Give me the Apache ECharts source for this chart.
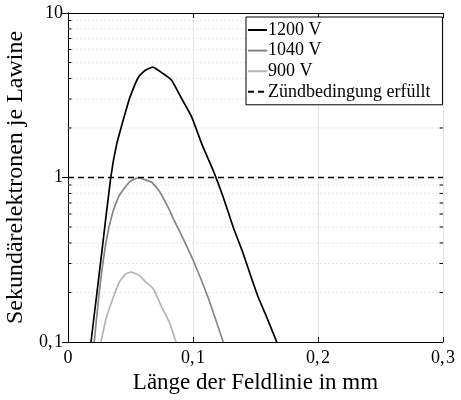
<!DOCTYPE html>
<html>
<head>
<meta charset="utf-8">
<script src="https://cdn.jsdelivr.net/npm/echarts@6/dist/echarts.min.js"></script>
<style>
  html, body { margin: 0; padding: 0; background: #fff; }
  #chart { width: 461px; height: 400px; }
</style>
</head>
<body>
<div id="chart"></div>
<script>
// Secondary electrons per avalanche along the field line (mm), three voltages
const x1200 = [0.0184, 0.0264, 0.0342, 0.039, 0.0456, 0.0496, 0.0563, 0.0616, 0.0677, 0.0763, 0.083, 0.091, 0.099, 0.107, 0.1162, 0.1242, 0.1322, 0.1402, 0.1456, 0.1522, 0.159, 0.167];
const y1200 = [0.1, 0.32, 1.0, 1.60, 2.44, 3.08, 4.07, 4.47, 4.69, 4.27, 3.89, 3.01, 2.33, 1.60, 1.10, 0.759, 0.499, 0.344, 0.260, 0.187, 0.1415, 0.1];

const x1040 = [0.021, 0.025, 0.0304, 0.0358, 0.041, 0.049, 0.0544, 0.0576, 0.0598, 0.067, 0.0736, 0.080, 0.0856, 0.0896, 0.1002, 0.112, 0.1242];
const y1040 = [0.1, 0.201, 0.404, 0.616, 0.777, 0.936, 0.99, 0.995, 0.98, 0.936, 0.814, 0.66, 0.535, 0.466, 0.313, 0.187, 0.1];

const x900 = [0.0264, 0.0304, 0.0358, 0.041, 0.0464, 0.0504, 0.057, 0.0624, 0.0683, 0.075, 0.0816, 0.0864];
const y900 = [0.1, 0.138, 0.183, 0.231, 0.260, 0.266, 0.254, 0.231, 0.21, 0.163, 0.129, 0.1];

// Ignition condition: one secondary electron per avalanche
const thresholdX = [0, 0.3];
const thresholdY = [1, 1];

const seriesNames = ['1200 V', '1040 V', '900 V', 'Zündbedingung erfüllt'];
const xTicks = [0, 0.1, 0.2, 0.3];
const yMinorValues = [0.2, 0.3, 0.4, 0.5, 0.6, 0.7, 0.8, 0.9, 2, 3, 4, 5, 6, 7, 8, 9];

const serif = '"Liberation Serif", "DejaVu Serif", serif';
const pairs = (xs, ys) => xs.map((x, i) => [x, ys[i]]);
// decimal comma followed by a hair space, as in typeset math
const comma = v => String(+v.toFixed(3)).replace('.', ',\u200A');

const chart = echarts.init(document.getElementById('chart'), null, { renderer: 'canvas' });

const baseAxisLine = { show: true, lineStyle: { color: '#000', width: 1 } };

chart.setOption({
  animation: false,
  backgroundColor: '#fff',
  textStyle: { fontFamily: serif },
  grid: { left: 68, right: 18, top: 13, bottom: 58, containLabel: false, outerBoundsMode: 'none' },
  legend: {
    orient: 'vertical',
    left: 246,
    top: 17,
    data: seriesNames,
    itemWidth: 19,
    itemHeight: 14,
    itemGap: 2.6,
    padding: [4, 12, 4, 1],
    borderColor: '#000',
    borderWidth: 1,
    borderRadius: 0,
    backgroundColor: '#fff',
    itemStyle: { opacity: 0 },
    textStyle: { fontFamily: serif, fontSize: 18, color: '#000', padding: [0, 0, 0, -4], lineHeight: 18 }
  },
  xAxis: [
    {
      type: 'value', min: xTicks[0], max: xTicks[xTicks.length - 1], interval: 0.1,
      position: 'bottom',
      axisLine: baseAxisLine,
      axisTick: { show: true, inside: true, length: 5, lineStyle: { color: '#000' } },
      axisLabel: { fontFamily: serif, fontSize: 18, color: '#000', margin: 7, formatter: comma },
      splitLine: { show: true, lineStyle: { color: '#e3e3e3', width: 1 } },
      name: 'Länge der Feldlinie in mm',
      nameLocation: 'middle',
      nameGap: 29,
      nameTextStyle: { fontFamily: serif, fontSize: 23, color: '#000' }
    },
    {
      type: 'value', min: xTicks[0], max: xTicks[xTicks.length - 1], interval: 0.1,
      position: 'top',
      axisLine: baseAxisLine,
      axisTick: { show: true, inside: true, length: 5, lineStyle: { color: '#000' } },
      axisLabel: { show: false },
      splitLine: { show: false }
    }
  ],
  yAxis: [
    {
      type: 'log', logBase: 10, min: 0.1, max: 10,
      position: 'left',
      axisLine: baseAxisLine,
      axisTick: { show: true, inside: true, length: 6, lineStyle: { color: '#000' } },
      axisLabel: { fontFamily: serif, fontSize: 18, color: '#000', margin: 5, formatter: comma },
      splitLine: { show: false },
      name: 'Sekundärelektronen je Lawine',
      nameLocation: 'middle',
      nameGap: 34,
      nameTextStyle: { fontFamily: serif, fontSize: 24, color: '#000' }
    },
    {
      type: 'log', logBase: 10, min: 0.1, max: 10,
      position: 'right',
      axisLine: baseAxisLine,
      axisTick: { show: true, inside: true, length: 6, lineStyle: { color: '#000' } },
      axisLabel: { show: false },
      splitLine: { show: false }
    }
  ],
  series: [
    {
      // minor log grid lines with inward ticks on both vertical axes
      type: 'custom',
      silent: true,
      z: 1,
      xAxisIndex: 0,
      yAxisIndex: 0,
      data: yMinorValues.map(v => [xTicks[0], v]),
      renderItem: (params, api) => {
        const v = api.value(1);
        const a = api.coord([xTicks[0], v]);
        const b = api.coord([xTicks[xTicks.length - 1], v]);
        return {
          type: 'group',
          children: [
            { type: 'line', shape: { x1: a[0], y1: a[1], x2: b[0], y2: b[1] },
              style: { stroke: '#e6e6e6', lineWidth: 1, lineDash: [2, 2] } },
            { type: 'line', shape: { x1: a[0], y1: a[1], x2: a[0] + 3.5, y2: a[1] },
              style: { stroke: '#000', lineWidth: 1 } },
            { type: 'line', shape: { x1: b[0] - 3.5, y1: b[1], x2: b[0], y2: b[1] },
              style: { stroke: '#000', lineWidth: 1 } }
          ]
        };
      }
    },
    {
      name: seriesNames[0], type: 'line', data: pairs(x1200, y1200),
      symbol: 'none', smooth: 0.15, z: 5,
      lineStyle: { color: '#000', width: 1.7 }, itemStyle: { color: '#000' }
    },
    {
      name: seriesNames[1], type: 'line', data: pairs(x1040, y1040),
      symbol: 'none', smooth: 0.15, z: 4,
      lineStyle: { color: '#858585', width: 1.7 }, itemStyle: { color: '#858585' }
    },
    {
      name: seriesNames[2], type: 'line', data: pairs(x900, y900),
      symbol: 'none', smooth: 0.15, z: 3,
      lineStyle: { color: '#b4b4b4', width: 1.7 }, itemStyle: { color: '#b4b4b4' }
    },
    {
      name: seriesNames[3], type: 'line', data: pairs(thresholdX, thresholdY),
      symbol: 'none', z: 6,
      lineStyle: { color: '#000', width: 1.5, type: [6, 4] }, itemStyle: { color: '#000' }
    }
  ]
});
</script>
</body>
</html>
